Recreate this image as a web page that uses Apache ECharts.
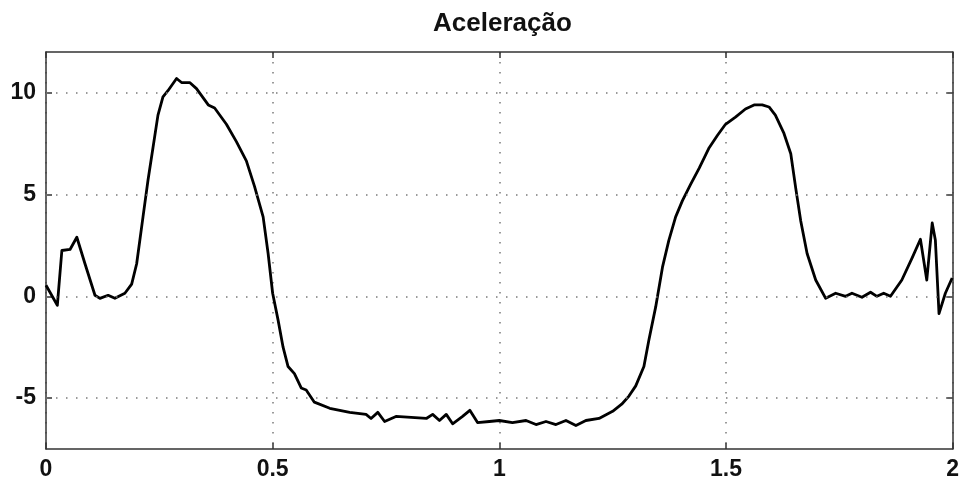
<!DOCTYPE html>
<html>
<head>
<meta charset="utf-8">
<script src="https://cdn.jsdelivr.net/npm/echarts@6/dist/echarts.min.js"></script>
<style>html,body{margin:0;padding:0;background:#fff}#c{width:962px;height:484px}</style>
</head>
<body>
<div id="c"></div>
<script>
const title = 'Aceleração';
const xTicks = [0, 0.5, 1, 1.5, 2];
const yTicks = [-5, 0, 5, 10];
const tValues = [0, 0.025, 0.035, 0.053, 0.068, 0.086, 0.108, 0.119, 0.137, 0.152, 0.174, 0.189, 0.2, 0.214, 0.225, 0.236, 0.247, 0.258, 0.269, 0.288, 0.299, 0.317, 0.332, 0.358, 0.372, 0.398, 0.42, 0.442, 0.46, 0.479, 0.49, 0.5, 0.512, 0.523, 0.534, 0.548, 0.563, 0.574, 0.592, 0.626, 0.67, 0.706, 0.717, 0.732, 0.747, 0.772, 0.839, 0.853, 0.868, 0.883, 0.897, 0.919, 0.935, 0.952, 0.978, 1.0, 1.029, 1.059, 1.081, 1.103, 1.125, 1.147, 1.169, 1.191, 1.22, 1.25, 1.27, 1.286, 1.301, 1.319, 1.33, 1.345, 1.36, 1.374, 1.389, 1.404, 1.422, 1.441, 1.463, 1.481, 1.499, 1.521, 1.543, 1.562, 1.58, 1.595, 1.609, 1.628, 1.643, 1.654, 1.665, 1.679, 1.698, 1.72, 1.742, 1.764, 1.778, 1.8, 1.819, 1.833, 1.848, 1.863, 1.888, 1.911, 1.929, 1.943, 1.955, 1.962, 1.97, 1.984, 1.999];
const accValues = [0.54, -0.44, 2.25, 2.3, 2.9, 1.6, 0.05, -0.1, 0.05, -0.1, 0.15, 0.6, 1.6, 3.9, 5.7, 7.3, 8.9, 9.8, 10.1, 10.7, 10.5, 10.5, 10.2, 9.4, 9.25, 8.45, 7.6, 6.65, 5.4, 3.9, 2.1, 0.15, -1.17, -2.5, -3.45, -3.8, -4.5, -4.6, -5.2, -5.5, -5.7, -5.8, -6.0, -5.7, -6.15, -5.9, -6.0, -5.8, -6.1, -5.8, -6.26, -5.9, -5.6, -6.2, -6.15, -6.1, -6.2, -6.1, -6.3, -6.15, -6.3, -6.1, -6.35, -6.1, -6.0, -5.65, -5.3, -4.9, -4.4, -3.45, -2.15, -0.52, 1.43, 2.75, 3.9, 4.7, 5.5, 6.3, 7.3, 7.9, 8.45, 8.8, 9.2, 9.4, 9.4, 9.3, 8.9, 8.0, 7.0, 5.3, 3.7, 2.1, 0.8, -0.1, 0.15, 0, 0.15, -0.05, 0.2, 0, 0.15, 0, 0.8, 1.9, 2.8, 0.8, 3.6, 2.75, -0.85, 0.15, 0.9];

const seriesData = tValues.map((t, i) => [t, accValues[i]]);
const font = 'Liberation Sans, Arial, sans-serif';
const dotStyle = { color: '#7a7a7a', width: 1.5, type: [1.5, 8.5] };
const frame = { show: true, onZero: false, lineStyle: { color: '#333', width: 1.5 } };
const tick = { show: true, inside: true, length: 6, lineStyle: { color: '#333', width: 1.5 } };

const chart = echarts.init(document.getElementById('c'), null, { renderer: 'canvas' });
chart.setOption({
  animation: false,
  backgroundColor: '#fff',
  title: {
    text: title, left: 428, top: 6,
    textStyle: { fontFamily: font, fontSize: 26, fontWeight: 'bold', color: '#111' }
  },
  grid: { left: 46, right: 8, top: 52, bottom: 35, containLabel: false },
  xAxis: [
    {
      type: 'value', min: 0, max: 2, interval: 0.5, position: 'bottom',
      axisLine: frame, axisTick: tick,
      axisLabel: { show: true, margin: 9, color: '#111', fontFamily: font, fontSize: 23, fontWeight: 'bold',
        formatter: v => xTicks.includes(v) ? String(v) : '' },
      splitLine: { show: true, lineStyle: dotStyle }
    },
    {
      type: 'value', min: 0, max: 2, interval: 0.5, position: 'top',
      axisLine: frame, axisTick: tick,
      axisLabel: { show: false }, splitLine: { show: false }
    }
  ],
  yAxis: [
    {
      type: 'value', min: -7.5, max: 12, position: 'left',
      axisLine: frame,
      axisTick: Object.assign({ customValues: yTicks }, tick),
      axisLabel: { show: true, margin: 10, customValues: yTicks, color: '#111', fontFamily: font, fontSize: 23, fontWeight: 'bold' },
      splitLine: { show: false }
    },
    {
      type: 'value', min: -7.5, max: 12, position: 'right',
      axisLine: frame,
      axisTick: Object.assign({ customValues: yTicks }, tick),
      axisLabel: { show: false }, splitLine: { show: false }
    }
  ],
  series: [{
    type: 'line', xAxisIndex: 0, yAxisIndex: 0,
    data: seriesData, showSymbol: false, symbol: 'none',
    lineStyle: { color: '#000', width: 2.8, join: 'round' },
    markLine: {
      silent: true, symbol: 'none', label: { show: false },
      lineStyle: dotStyle,
      data: yTicks.map(v => ({ yAxis: v }))
    },
    z: 3
  }]
});
</script>
</body>
</html>
